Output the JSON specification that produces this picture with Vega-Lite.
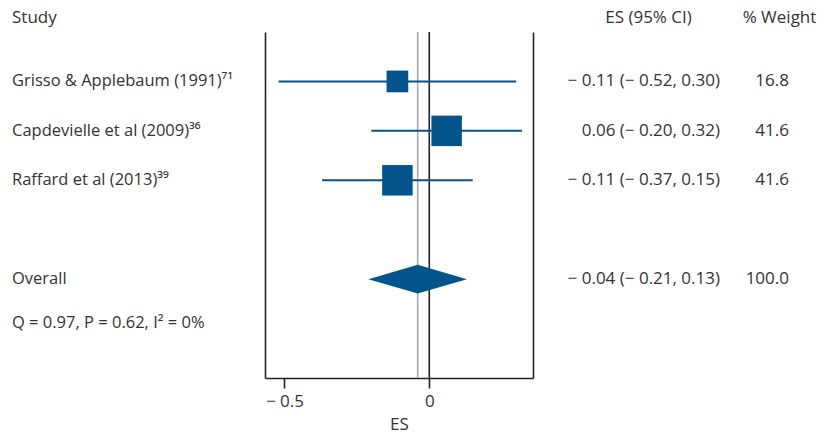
{
  "$schema": "https://vega.github.io/schema/vega-lite/v6.json",
  "padding": {"left": 12, "top": 9, "right": 0, "bottom": 0},
  "background": "white",
  "spacing": 0,
  "bounds": "flush",
  "config": {
    "view": {"stroke": null},
    "font": "Open Sans",
    "text": {"font": "Open Sans", "fontSize": 17, "color": "#333"},
    "axis": {"grid": false, "labelFont": "Open Sans", "titleFont": "Open Sans"},
    "title": {"font": "Open Sans", "fontSize": 17, "fontWeight": "normal", "color": "#333", "baseline": "alphabetic", "offset": 5}
  },
  "datasets": {
    "rows": [
      {"study": "Grisso & Applebaum (1991)⁷¹", "row": 1, "es": -0.11, "lo": -0.52, "hi": 0.30, "weight": 16.8, "ci": "− 0.11 (− 0.52, 0.30)", "kind": "study"},
      {"study": "Capdevielle et al (2009)³⁶", "row": 2, "es": 0.06, "lo": -0.20, "hi": 0.32, "weight": 41.6, "ci": "0.06 (− 0.20, 0.32)", "kind": "study"},
      {"study": "Raffard et al (2013)³⁹", "row": 3, "es": -0.11, "lo": -0.37, "hi": 0.15, "weight": 41.6, "ci": "− 0.11 (− 0.37, 0.15)", "kind": "study"},
      {"study": "Overall", "row": 5, "es": -0.04, "lo": -0.21, "hi": 0.13, "weight": 100.0, "ci": "− 0.04 (− 0.21, 0.13)", "kind": "overall"},
      {"study": "Q = 0.97, P = 0.62, I² = 0%", "row": 5.88, "kind": "note"}
    ],
    "diamond": [
      {"x": -0.21, "top": 5, "bottom": 5},
      {"x": -0.04, "top": 4.71, "bottom": 5.29},
      {"x": 0.13, "top": 5, "bottom": 5}
    ]
  },
  "hconcat": [
    {
      "width": 253,
      "height": 346,
      "title": {"text": "Study", "anchor": "start"},
      "data": {"name": "rows"},
      "mark": {"type": "text", "align": "left", "baseline": "middle", "fontSize": 16.5},
      "encoding": {
        "x": {"datum": 0, "type": "quantitative", "scale": {"domain": [0, 1]}, "axis": null},
        "y": {"field": "row", "type": "quantitative", "scale": {"domain": [0, 7], "nice": false, "zero": false, "reverse": true}, "axis": null},
        "text": {"field": "study", "type": "nominal"}
      }
    },
    {
      "width": 268,
      "height": 346,
      "data": {"name": "rows"},
      "layer": [
        {
          "transform": [{"filter": "datum.kind === 'overall'"}],
          "mark": {"type": "rule", "color": "#a8a8a8", "strokeWidth": 1.6},
          "encoding": {
            "x": {
              "field": "es", "type": "quantitative",
              "scale": {"domain": [-0.567, 0.358], "nice": false, "zero": false},
              "axis": {
                "values": [-0.5, 0], "format": "~g", "title": "ES",
                "labelExpr": "replace(datum.label, '−', '− ')",
                "tickSize": 10, "tickColor": "#222", "tickWidth": 1.6,
                "domainColor": "#222", "domainWidth": 1.6,
                "labelFontSize": 17, "labelColor": "#333", "labelPadding": 5,
                "titleFontSize": 17, "titleFontWeight": "normal", "titleColor": "#333", "titlePadding": 7
              }
            }
          }
        },
        {
          "transform": [{"filter": "datum.kind === 'overall'"}],
          "mark": {"type": "rule", "color": "#222", "strokeWidth": 1.6},
          "encoding": {"x": {"datum": 0, "type": "quantitative"}}
        },
        {
          "transform": [{"filter": "datum.kind === 'study'"}],
          "mark": {"type": "rule", "color": "#04548c", "strokeWidth": 2},
          "encoding": {
            "x": {"field": "lo", "type": "quantitative"},
            "x2": {"field": "hi"},
            "y": {
              "field": "row", "type": "quantitative",
              "scale": {"domain": [0, 7], "nice": false, "zero": false, "reverse": true},
              "axis": {"orient": "left", "labels": false, "ticks": false, "title": null, "domainColor": "#222", "domainWidth": 1.6}
            }
          }
        },
        {
          "transform": [{"filter": "datum.kind === 'study'"}],
          "mark": {"type": "point", "shape": "square", "filled": true, "opacity": 1, "strokeWidth": 0, "color": "#04548c"},
          "encoding": {
            "x": {"field": "es", "type": "quantitative"},
            "y": {"field": "row", "type": "quantitative", "scale": {"domain": [0, 7], "nice": false, "zero": false, "reverse": true}, "axis": null},
            "size": {"field": "weight", "type": "quantitative", "scale": {"domain": [16.8, 41.6], "range": [471, 930], "zero": false}, "legend": null}
          }
        },
        {
          "data": {"name": "diamond"},
          "mark": {"type": "area", "orient": "vertical", "color": "#04548c", "opacity": 1},
          "encoding": {
            "x": {"field": "x", "type": "quantitative"},
            "y": {
              "field": "top", "type": "quantitative",
              "scale": {"domain": [0, 7], "nice": false, "zero": false, "reverse": true},
              "axis": {"orient": "right", "labels": false, "ticks": false, "title": null, "domainColor": "#222", "domainWidth": 1.6}
            },
            "y2": {"field": "bottom"}
          }
        }
      ],
      "resolve": {"scale": {"y": "independent"}}
    },
    {
      "width": 187,
      "height": 346,
      "title": {"text": "ES (95% CI)", "anchor": "middle", "dx": 22},
      "data": {"name": "rows"},
      "transform": [{"filter": "datum.kind !== 'note'"}],
      "mark": {"type": "text", "align": "right", "baseline": "middle"},
      "encoding": {
        "x": {"datum": 1, "type": "quantitative", "scale": {"domain": [0, 1]}, "axis": null},
        "y": {"field": "row", "type": "quantitative", "scale": {"domain": [0, 7], "nice": false, "zero": false, "reverse": true}, "axis": null},
        "text": {"field": "ci", "type": "nominal"}
      }
    },
    {
      "width": 69,
      "height": 346,
      "title": {"text": "% Weight", "anchor": "middle", "dx": 25},
      "data": {"name": "rows"},
      "transform": [{"filter": "datum.kind !== 'note'"}],
      "mark": {"type": "text", "align": "right", "baseline": "middle"},
      "encoding": {
        "x": {"datum": 1, "type": "quantitative", "scale": {"domain": [0, 1]}, "axis": null},
        "y": {"field": "row", "type": "quantitative", "scale": {"domain": [0, 7], "nice": false, "zero": false, "reverse": true}, "axis": null},
        "text": {"field": "weight", "type": "quantitative", "format": ".1f"}
      }
    }
  ]
}
